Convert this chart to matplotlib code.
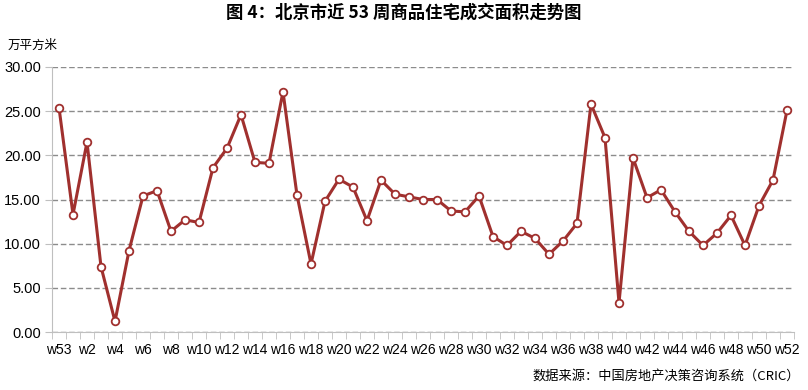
import matplotlib
matplotlib.use('Agg')
import matplotlib.pyplot as plt
import numpy as np

plt.rcParams['font.family'] = ['Liberation Sans', 'Noto Sans CJK SC', 'DejaVu Sans']

weeks = ['w53'] + [f'w{i}' for i in range(1, 53)]
area = [25.4, 13.3, 21.5, 7.4, 1.2, 9.2, 15.4, 16.0, 11.4, 12.7,
        12.4, 18.6, 20.8, 24.6, 19.2, 19.1, 27.2, 15.5, 7.7, 14.8,
        17.3, 16.4, 12.6, 17.2, 15.6, 15.3, 15.0, 15.0, 13.7, 13.6,
        15.4, 10.8, 9.8, 11.4, 10.6, 8.8, 10.3, 12.3, 25.8, 22.0,
        3.3, 19.7, 15.2, 16.1, 13.6, 11.4, 9.8, 11.2, 13.2, 9.8,
        14.3, 17.2, 25.1]
yticks = [0, 5, 10, 15, 20, 25, 30]

title = '图 4：北京市近 53 周商品住宅成交面积走势图'
unit = '万平方米'
source = '数据来源：中国房地产决策咨询系统（CRIC）'

line_color = '#A0302E'
grid_color = '#8C8C8C'

fig = plt.figure(figsize=(8.08, 3.90), dpi=100)
ax = fig.add_axes([52 / 808, 1 - 332 / 390, 742 / 808, 265 / 390])

x = np.arange(len(weeks))
ax.plot(x, area, color=line_color, lw=2.2, marker='o', ms=5.5,
        mfc='white', mec=line_color, mew=1.3, zorder=3)

ax.set_xlim(-0.5, len(weeks) - 0.5)
ax.set_ylim(0, 30)
ax.set_yticks(yticks)
ax.set_yticklabels([f'{v:.2f}' for v in yticks], fontsize=10.5)
ax.yaxis.grid(True, color=grid_color, ls=(0, (4, 2)), lw=1)
ax.set_axisbelow(True)

ax.set_xticks(x[::2])
ax.set_xticklabels(weeks[::2], fontsize=10)
ax.set_xticks(np.arange(-0.5, len(weeks)), minor=True)
ax.tick_params(axis='x', which='major', length=0, pad=8)
ax.tick_params(axis='x', which='minor', length=5, color='#BFBFBF', direction='out')
ax.tick_params(axis='y', length=5, color='#BFBFBF', direction='out', pad=3)

for side in ['top', 'right']:
    ax.spines[side].set_visible(False)
for side in ['left', 'bottom']:
    ax.spines[side].set_color('#BFBFBF')

fig.text(0.5, 1 - 13 / 390, title, ha='center', va='center', fontsize=12.5,
         fontweight='bold', family=['Noto Sans CJK SC', 'DejaVu Sans'])
fig.text(8 / 808, 1 - 45 / 390, unit, ha='left', va='center', fontsize=9,
         family=['Noto Sans CJK SC'])
fig.text(800 / 808, 1 - 376 / 390, source, ha='right', va='center', fontsize=9.5,
         family=['Noto Sans CJK SC'])

fig.savefig('out.png', dpi=100)
